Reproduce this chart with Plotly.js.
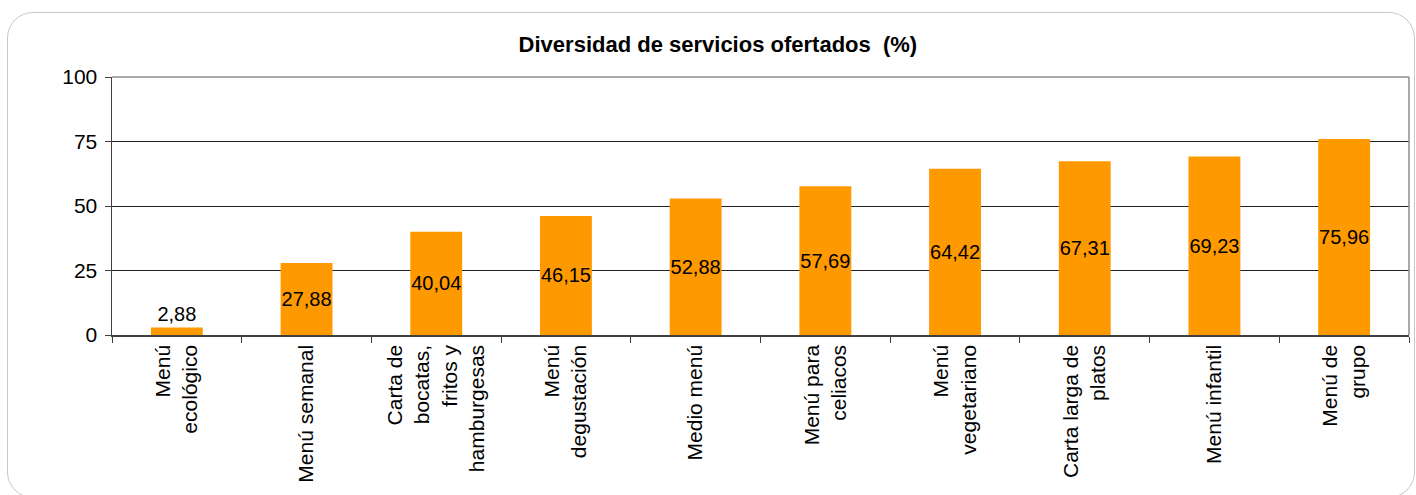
<!DOCTYPE html>
<html>
<head>
<meta charset="utf-8">
<script src="https://cdn.plot.ly/plotly-3.0.1.min.js"></script>
<style>
  html, body { margin: 0; padding: 0; background: #ffffff; }
  #frame { position: absolute; left: 7px; top: 12px; width: 1408px; height: 486px;
           border: 1.5px solid #c8c8c8; border-radius: 26px; box-sizing: border-box; }
  #chart { position: absolute; left: 0; top: 0; width: 1416px; height: 495px; }
</style>
</head>
<body>
<div id="frame"></div>
<div id="chart"></div>
<script>
const categories = [
  "Menú<br>ecológico",
  "Menú semanal",
  "Carta de<br>bocatas,<br>fritos y<br>hamburgesas",
  "Menú<br>degustación",
  "Medio menú",
  "Menú para<br>celiacos",
  "Menú<br>vegetariano",
  "Carta larga de<br>platos",
  "Menú infantil",
  "Menú de<br>grupo"
];
const values = [2.88, 27.88, 40.04, 46.15, 52.88, 57.69, 64.42, 67.31, 69.23, 75.96];
const yTicks = [0, 25, 50, 75, 100];
const titleText = "Diversidad de servicios ofertados\u00a0\u00a0(%)";

const FONT = "Liberation Sans, Arial, sans-serif";

const trace = {
  type: "bar",
  x: categories,
  y: values,
  width: 0.4,
  marker: { color: "#FF9900", line: { width: 0 } },
  texttemplate: "%{y:.2f}",
  textposition: values.map(v => v < 10 ? "outside" : "inside"),
  insidetextanchor: "middle",
  textangle: 0,
  constraintext: "none",
  cliponaxis: false,
  textfont: { family: FONT, size: 20, color: "#000000" },
  hoverinfo: "skip"
};

const layout = {
  width: 1416,
  height: 495,
  margin: { l: 112, r: 7, t: 77, b: 160 },
  paper_bgcolor: "rgba(0,0,0,0)",
  plot_bgcolor: "rgba(0,0,0,0)",
  separators: ",.",
  showlegend: false,
  uniformtext: { mode: "show", minsize: 20 },
  font: { family: FONT, size: 21, color: "#000000" },
  title: {
    text: "<b>" + titleText + "</b>",
    font: { family: FONT, size: 22, color: "#000000" },
    x: 0.507, xref: "container", xanchor: "center",
    y: 1 - 44 / 495, yref: "container", yanchor: "middle"
  },
  xaxis: {
    type: "category",
    tickangle: -90,
    ticks: "outside",
    tickson: "boundaries",
    ticklen: 6,
    tickcolor: "#404040",
    tickwidth: 1,
    showline: true,
    linecolor: "#404040",
    linewidth: 1.5,
    showgrid: false,
    zeroline: false,
    tickfont: { family: FONT, size: 21, color: "#000000" }
  },
  yaxis: {
    range: [0, 100],
    tickvals: yTicks,
    ticktext: yTicks.map(String),
    ticks: "outside",
    ticklen: 6,
    tickcolor: "#404040",
    showline: true,
    linecolor: "#404040",
    linewidth: 1.5,
    showgrid: true,
    gridcolor: "#202020",
    gridwidth: 1,
    zeroline: false,
    tickfont: { family: FONT, size: 21, color: "#000000" },
    ticklabelstandoff: 3
  },
  shapes: [
    { type: "line", xref: "paper", yref: "paper", x0: 0, x1: 1, y0: 1, y1: 1,
      line: { color: "#8c8c8c", width: 1.5 }, layer: "above" },
    { type: "line", xref: "paper", yref: "paper", x0: 1, x1: 1, y0: 0, y1: 1,
      line: { color: "#8c8c8c", width: 1.5 }, layer: "above" }
  ]
};

Plotly.newPlot("chart", [trace], layout, { displayModeBar: false, staticPlot: true });
</script>
</body>
</html>
